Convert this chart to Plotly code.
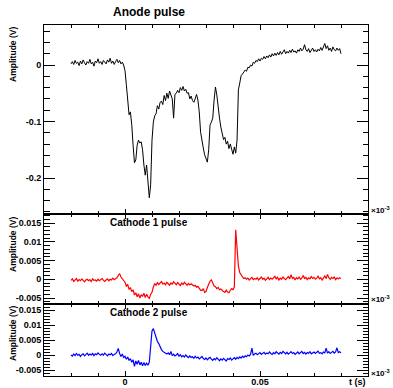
import plotly.graph_objects as go

# time axis (units of 1e-3 s, as on the axis), uniform sampling
t_start = -0.02
t_step = 0.0005

anode = [
    0.002, 0.006, 0.001, 0.008, 0.003, 0.005, -0.001, 0.007, 0.002, 0.009,
    0.004, 0.000, 0.006, 0.003, 0.010, 0.002, 0.005, -0.002, 0.007, 0.004,
    0.011, 0.003, 0.006, 0.001, 0.008, 0.004, 0.002, 0.009, 0.005, 0.012,
    0.003, 0.007, 0.001, 0.006, 0.010, 0.004, 0.008, 0.002, 0.005, 0.000,
    -0.010, -0.035, -0.071, -0.088, -0.083, -0.106, -0.142, -0.173, -0.168, -0.142,
    -0.133, -0.138, -0.136, -0.150, -0.177, -0.195, -0.177, -0.204, -0.235, -0.212,
    -0.133, -0.101, -0.090, -0.086, -0.072, -0.078, -0.066, -0.064, -0.070, -0.054,
    -0.063, -0.050, -0.059, -0.046, -0.055, -0.060, -0.094, -0.052, -0.050, -0.045,
    -0.049, -0.040, -0.045, -0.038, -0.046, -0.043, -0.050, -0.049, -0.060, -0.055,
    -0.063, -0.066, -0.060, -0.052, -0.062, -0.083, -0.119, -0.136, -0.147, -0.159,
    -0.168, -0.172, -0.150, -0.106, -0.101, -0.094, -0.062, -0.039, -0.053, -0.080,
    -0.094, -0.110, -0.120, -0.132, -0.128, -0.140, -0.135, -0.148, -0.140, -0.152,
    -0.158, -0.145, -0.156, -0.133, -0.044, -0.032, -0.019, -0.016, -0.012, -0.009,
    -0.011, -0.004, -0.005, 0.000, -0.002, 0.005, 0.003, 0.008, 0.006, 0.011,
    0.007, 0.012, 0.010, 0.015, 0.011, 0.016, 0.013, 0.018, 0.014, 0.020,
    0.016, 0.021, 0.017, 0.022, 0.018, 0.024, 0.019, 0.022, 0.027, 0.020,
    0.024, 0.021, 0.026, 0.022, 0.028, 0.023, 0.025, 0.021, 0.027, 0.024,
    0.030, 0.025, 0.028, 0.036, 0.027, 0.024, 0.029, 0.022, 0.026, 0.030,
    0.024, 0.027, 0.023, 0.028, 0.025, 0.031, 0.026, 0.033, 0.038, 0.029,
    0.034, 0.026, 0.030, 0.024, 0.032, 0.027, 0.025, 0.030, 0.026, 0.029,
    0.020,
]

cathode1 = [
    -0.0003, 0.0001, -0.0006, -0.0002, 0.0002, -0.0005, -0.0001, -0.0004, 0.0001, -0.0003,
    -0.0007, -0.0002, 0.0000, -0.0004, -0.0001, -0.0006, 0.0001, -0.0003, -0.0002, -0.0005,
    0.0000, -0.0004, -0.0001, 0.0002, -0.0003, -0.0006, -0.0002, 0.0001, -0.0004, 0.0000,
    -0.0002, 0.0003, -0.0001, 0.0002, 0.0004, 0.0010, 0.0015, 0.0006, 0.0002, -0.0005,
    -0.0008, -0.0018, -0.0014, -0.0027, -0.0022, -0.0033, -0.0028, -0.0042, -0.0036, -0.0047,
    -0.0039, -0.0050, -0.0041, -0.0046, -0.0037, -0.0049, -0.0040, -0.0047, -0.0051, -0.0040,
    -0.0035, -0.0020, -0.0012, -0.0016, -0.0009, -0.0014, -0.0011, -0.0006, -0.0013, -0.0010,
    -0.0015, -0.0008, -0.0012, -0.0016, -0.0010, -0.0013, -0.0007, -0.0011, -0.0015, -0.0009,
    -0.0012, -0.0017, -0.0010, -0.0014, -0.0008, -0.0013, -0.0016, -0.0011, -0.0015, -0.0012,
    -0.0014, -0.0018, -0.0016, -0.0021, -0.0019, -0.0025, -0.0029, -0.0030, -0.0025, -0.0035,
    -0.0033, -0.0022, -0.0012, -0.0005, -0.0002, -0.0010, -0.0018, -0.0020, -0.0025, -0.0022,
    -0.0028, -0.0026, -0.0030, -0.0033, -0.0035, -0.0029, -0.0034, -0.0036, -0.0030, -0.0025,
    -0.0028, -0.0020, 0.0132, 0.0070, 0.0035, 0.0018, 0.0010, 0.0006, 0.0002, 0.0004,
    0.0000, 0.0003, -0.0002, 0.0001, 0.0005, -0.0001, 0.0002, 0.0000, 0.0004, -0.0002,
    0.0001, 0.0006, 0.0000, 0.0003, -0.0003, 0.0002, 0.0005, -0.0001, 0.0003, 0.0000,
    0.0004, 0.0008, 0.0001, 0.0005, -0.0002, 0.0003, 0.0000, 0.0006, 0.0002, -0.0001,
    0.0003, 0.0007, 0.0001, 0.0012, 0.0002, 0.0005, -0.0002, 0.0004, 0.0001, 0.0006,
    0.0000, 0.0003, 0.0010, 0.0002, 0.0005, -0.0001, 0.0004, 0.0001, 0.0007, 0.0002,
    0.0005, 0.0000, 0.0003, 0.0008, 0.0001, 0.0004, -0.0002, 0.0003, 0.0009, 0.0002,
    0.0013, 0.0004, 0.0000, 0.0005, 0.0002, 0.0006, -0.0001, 0.0003, 0.0001, 0.0004,
    0.0002,
]

cathode2 = [
    0.0000, -0.0004, 0.0003, -0.0002, 0.0005, -0.0001, 0.0002, -0.0005, 0.0001, 0.0004,
    -0.0003, 0.0002, 0.0006, -0.0001, 0.0003, 0.0000, 0.0005, -0.0002, 0.0004, 0.0001,
    0.0007, 0.0002, -0.0001, 0.0004, 0.0000, 0.0006, 0.0002, -0.0003, 0.0003, 0.0001,
    0.0005, -0.0002, 0.0002, 0.0004, 0.0010, 0.0022, 0.0005, -0.0005, 0.0003, -0.0008,
    -0.0004, -0.0014, -0.0007, -0.0018, -0.0012, -0.0024, -0.0016, -0.0038, -0.0020, -0.0031,
    -0.0018, -0.0033, -0.0024, -0.0036, -0.0025, -0.0035, -0.0027, -0.0034, -0.0024, 0.0030,
    0.0080, 0.0088, 0.0072, 0.0055, 0.0045, 0.0038, 0.0025, 0.0018, 0.0012, 0.0008,
    0.0006, 0.0003, 0.0007, 0.0001, 0.0012, -0.0002, 0.0003, -0.0003, 0.0000, 0.0005,
    -0.0004, 0.0001, -0.0006, -0.0002, -0.0007, 0.0000, -0.0005, -0.0009, -0.0003, -0.0008,
    -0.0006, -0.0011, -0.0004, -0.0010, -0.0007, -0.0013, -0.0009, -0.0005, -0.0012, -0.0015,
    -0.0010, -0.0016, -0.0011, -0.0008, -0.0014, -0.0018, -0.0012, -0.0016, -0.0009, -0.0015,
    -0.0019, -0.0013, -0.0017, -0.0011, -0.0016, -0.0020, -0.0012, -0.0015, -0.0010, -0.0017,
    -0.0013, -0.0009, -0.0014, -0.0008, -0.0012, -0.0006, -0.0010, -0.0004, -0.0008, -0.0003,
    -0.0006, 0.0000, -0.0003, 0.0002, 0.0023, -0.0001, 0.0003, 0.0006, 0.0001, 0.0004,
    0.0008, 0.0002, 0.0005, 0.0009, 0.0003, 0.0007, 0.0004, 0.0010, 0.0005, 0.0002,
    0.0008, 0.0004, 0.0011, 0.0006, 0.0003, 0.0009, 0.0005, 0.0012, 0.0006, 0.0004,
    0.0009, 0.0003, 0.0007, 0.0011, 0.0005, 0.0008, 0.0002, 0.0006, 0.0010, 0.0004,
    0.0007, 0.0012, 0.0005, 0.0009, 0.0003, 0.0008, 0.0006, 0.0011, 0.0004, 0.0007,
    0.0010, 0.0005, 0.0009, 0.0013, 0.0006, 0.0008, 0.0004, 0.0010, 0.0007, 0.0023,
    0.0006, 0.0011, 0.0005, 0.0009, 0.0012, 0.0006, 0.0010, 0.0024, 0.0008, 0.0011,
    0.0007,
]

panel_titles = ["Anode pulse", "Cathode 1 pulse", "Cathode 2 pulse"]
y_title = "Amplitude (V)"
x_title = "t (s)"
x_ticks = [0, 0.05]
x_ticktext = ["0", "0.05"]
y1_ticks = [-0.2, -0.1, 0]
y1_ticktext = ["-0.2", "-0.1", "0"]
yc_ticks = [-0.005, 0, 0.005, 0.01, 0.015]
yc_ticktext = ["-0.005", "0", "0.005", "0.01", "0.015"]

time = [t_start + k * t_step for k in range(len(anode))]

W, H = 393, 388
def px(x):
    return x / W
def py(y):
    return 1 - y / H

FONT = "Liberation Sans, Arial, Helvetica, sans-serif"
tickfont = dict(family=FONT, size=9, color="black", weight="bold")

fig = go.Figure()
fig.add_trace(go.Scatter(x=time, y=anode, mode="lines", line=dict(color="black", width=1),
                         xaxis="x", yaxis="y", showlegend=False))
fig.add_trace(go.Scatter(x=time, y=cathode1, mode="lines", line=dict(color="#ff0000", width=1.2),
                         xaxis="x2", yaxis="y2", showlegend=False))
fig.add_trace(go.Scatter(x=time, y=cathode2, mode="lines", line=dict(color="#0000ff", width=1.2),
                         xaxis="x3", yaxis="y3", showlegend=False))

xdom = [px(44), px(368)]
ydoms = [[py(214), py(25)], [py(304), py(214)], [py(376), py(304)]]
xrange_ = [-0.03, 0.09]
yranges = [[-0.2637, 0.0708], [-0.0066, 0.0174], [-0.0070, 0.0170]]

common_axis = dict(showline=True, linecolor="black", linewidth=1, mirror="allticks",
                   ticks="inside", tickcolor="black", showgrid=False, zeroline=False,
                   automargin=False, tickfont=tickfont)

layout = dict(width=W, height=H, margin=dict(l=0, r=0, t=0, b=0),
              paper_bgcolor="white", plot_bgcolor="white", template="none",
              showlegend=False)

for i in range(3):
    sfx = "" if i == 0 else str(i + 1)
    xa = dict(common_axis, domain=xdom, range=xrange_, anchor="y" + sfx,
              tickvals=x_ticks, ticktext=x_ticktext, ticklen=5, tickwidth=1,
              ticklabelstandoff=-3,
              minor=dict(dtick=0.01, tick0=0, ticklen=3, ticks="inside", tickcolor="black"),
              showticklabels=(i == 2))
    if i > 0:
        xa["matches"] = "x"
    if i == 0:
        ya = dict(common_axis, domain=ydoms[i], range=yranges[i], anchor="x" + sfx,
                  tickvals=y1_ticks, ticktext=y1_ticktext, ticklen=11,
                  minor=dict(dtick=0.02, tick0=0, ticklen=5.5, ticks="inside", tickcolor="black"))
    else:
        ya = dict(common_axis, domain=ydoms[i], range=yranges[i], anchor="x" + sfx,
                  tickvals=yc_ticks, ticktext=yc_ticktext, ticklen=11,
                  minor=dict(dtick=0.001, tick0=0, ticklen=5.5, ticks="inside", tickcolor="black"))
    layout["xaxis" + sfx] = xa
    layout["yaxis" + sfx] = ya

ann = []
title_pos = [(149, 12, 12), (149, 222, 10), (149, 312, 10)]
for txt, (x, y, s) in zip(panel_titles, title_pos):
    ann.append(dict(text="<b>%s</b>" % txt, x=px(x), y=py(y), xref="paper", yref="paper",
                    showarrow=False, xanchor="center", yanchor="middle",
                    font=dict(family=FONT, size=s, color="black")))
for yc in [55, 245, 334]:
    ann.append(dict(text="<b>%s</b>" % y_title, x=px(13), y=py(yc), xref="paper", yref="paper",
                    showarrow=False, textangle=-90, xanchor="center", yanchor="middle",
                    font=dict(family=FONT, size=8.5, color="black")))
for yc in [210, 299, 373]:
    ann.append(dict(text="<b>\u00d710<sup>-3</sup></b>", x=px(369), y=py(yc), xref="paper", yref="paper",
                    showarrow=False, xanchor="left", yanchor="middle",
                    font=dict(family=FONT, size=8, color="black")))
ann.append(dict(text="<b>%s</b>" % x_title, x=px(368), y=py(382), xref="paper", yref="paper",
                showarrow=False, xanchor="right", yanchor="middle",
                font=dict(family=FONT, size=9, color="black")))
layout["annotations"] = ann

fig.update_layout(**layout)
fig.write_html("out.html")
